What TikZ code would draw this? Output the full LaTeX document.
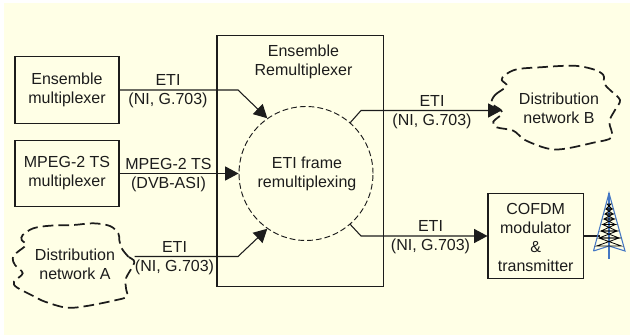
\documentclass[tikz,border=0pt]{standalone}
\usepackage{fontspec}
\setmainfont{Liberation Sans}
\usetikzlibrary{arrows.meta}
\definecolor{bgcream}{HTML}{FFFFE6}
\definecolor{ink}{HTML}{1C1C1C}
\definecolor{towerblue}{HTML}{4477C4}
\tikzset{
  txt/.style={font=\fontsize{12}{14.25}\selectfont,text=ink,align=center,inner sep=0pt},
  boxnode/.style={txt,draw=ink,line width=0.8pt,inner sep=0pt},
  link/.style={draw=ink,line width=0.8pt},
  arrowlink/.style={link,-{Triangle[length=10pt,width=10.5pt]}},
  ringnode/.style={txt,draw=ink,circle,line width=0.7pt,dash pattern=on 4.4pt off 2.2pt,inner sep=0pt},
  cloudline/.style={draw=ink,line width=1.3pt,dash pattern=on 8pt off 3.8pt},
  lattice/.style={draw=black,line width=0.6pt},
  mast/.style={draw=towerblue,line width=0.8pt}
}
\begin{document}
\begin{tikzpicture}[x=0.75pt,y=-0.75pt]
\useasboundingbox (0,0) rectangle (630,335);
\fill[white] (0,0) rectangle (630,335);
\fill[bgcream] (4,3) rectangle (630,335);

% big box
\node[boxnode,minimum width=166.5*0.75pt,minimum height=250.5*0.75pt] (remux) at (300.25,161) {};
\node[txt] (remuxlabel) at (303.5,61.5) {Ensemble\\Remultiplexer};

% ring
\node[ringnode,minimum size=134*0.75pt] (ring) at (306,173.5) {};
\node[txt] (ringlabel) at (307,173.5) {ETI frame\\remultiplexing};

% source boxes
\node[boxnode,minimum width=104*0.75pt,minimum height=66.5*0.75pt] (ensmux) at (67,90) {};
\node[txt] (ensmuxlabel) at (67,89.5) {Ensemble\\multiplexer};
\node[boxnode,minimum width=104*0.75pt,minimum height=66.5*0.75pt] (tsmux) at (67,173.5) {};
\node[txt] (tsmuxlabel) at (67,173) {MPEG-2 TS\\multiplexer};

% modulator
\node[boxnode,minimum width=95.7*0.75pt,minimum height=85.7*0.75pt] (cofdm) at (535.85,236) {};
\node[txt] (cofdmlabel) at (535.7,237) {COFDM\\modulator\\\&\\transmitter};

% clouds
\draw[cloudline] plot[smooth cycle,tension=0.55] coordinates {
 (134.3,262.3)(128.3,256.7)(121.7,248.3)(119.3,240)(118.3,233.3)(110,226)(93.3,223.3)(73.3,225)(50,225.7)(33.3,228.3)(22.7,235)(21.7,240)(26,245)(16.7,252.7)(12.7,258.3)(15,265)(22.7,273.3)(14,281.7)(16.7,287.3)(33.3,296)(45,301.7)(66.7,307.7)(86.7,306)(113.3,300.7)(126.7,296.7)(126,288.3)(126,278.3)};
\node[txt] (clouda) at (75,264) {Distribution\\network A};
\coordinate (cloudaout) at (134.5,256.5);

\draw[cloudline] plot[smooth cycle,tension=0.55] coordinates {
 (491.7,103.3)(495,95)(506.7,86)(501.7,80)(505,75)(516.7,69.3)(540,67.3)(573.3,65.7)(593.3,69.3)(603.3,75)(604,83.3)(610,90)(620,100)(615,110)(609.3,121.7)(611.7,137.3)(593.3,142.7)(563.3,149)(546.7,148.3)(525,140)(513.3,130.7)(496.7,127.3)(493.3,121.7)(501.7,114.3)(500.7,110)};
\node[txt] (cloudb) at (559,108) {Distribution\\network B};
\coordinate (cloudbin) at (501.5,110.5);

% bends
\coordinate (bend1) at (238,90);
\coordinate (bend3) at (238,256.5);
\coordinate (bendb) at (361,110.5);
\coordinate (bendc) at (361,236);

% connectors
\draw[arrowlink] (ensmux.east) -- (bend1) -- (ring.125);
\draw[arrowlink] (tsmux.east) -- (ring.west);
\draw[arrowlink] (cloudaout) -- (bend3) -- (ring.235);
\draw[arrowlink] (ring.49) -- (bendb) -- (cloudbin);
\draw[arrowlink] (ring.-49) -- (bendc) -- (cofdm.west);

% labels
\node[txt] (l1) at (168,91.5) {ETI\\(NI, G.703)};
\node[txt] (l2) at (168.5,175) {MPEG-2 TS\\(DVB-ASI)};
\node[txt] (l3) at (174.5,258) {ETI\\(NI, G.703)};
\node[txt] (l4) at (432,112) {ETI\\(NI, G.703)};
\node[txt] (l5) at (430.5,237) {ETI\\(NI, G.703)};

% tower
\coordinate (towerapex) at (609,193);
\coordinate (towerleft) at (593.5,251);
\coordinate (towerright) at (625,251);
\coordinate (towerhub) at (609,246);
\coordinate (towerbase) at (609,259);
\draw[link] (cofdm.east) -- (600,236) coordinate (towerfeed);
\draw[mast] (towerleft) -- (towerapex) -- (towerright) -- (towerhub) -- (towerleft);
\draw[mast] (towerapex) -- (towerbase);
\foreach \ya/\wa/\yb/\wb in {204/2/209/3,209/3/214/4,214/4/219/5,219/5/224.5/6.3,224.5/6.3/231/8,231/8/238/10,238/10/246/12.3}{
  \draw[lattice] (609-\wa,\ya) -- (609+\wa,\ya) -- (609-\wb,\yb) -- (609+\wb,\yb) -- (609-\wa,\ya);
}
\end{tikzpicture}
\end{document}
